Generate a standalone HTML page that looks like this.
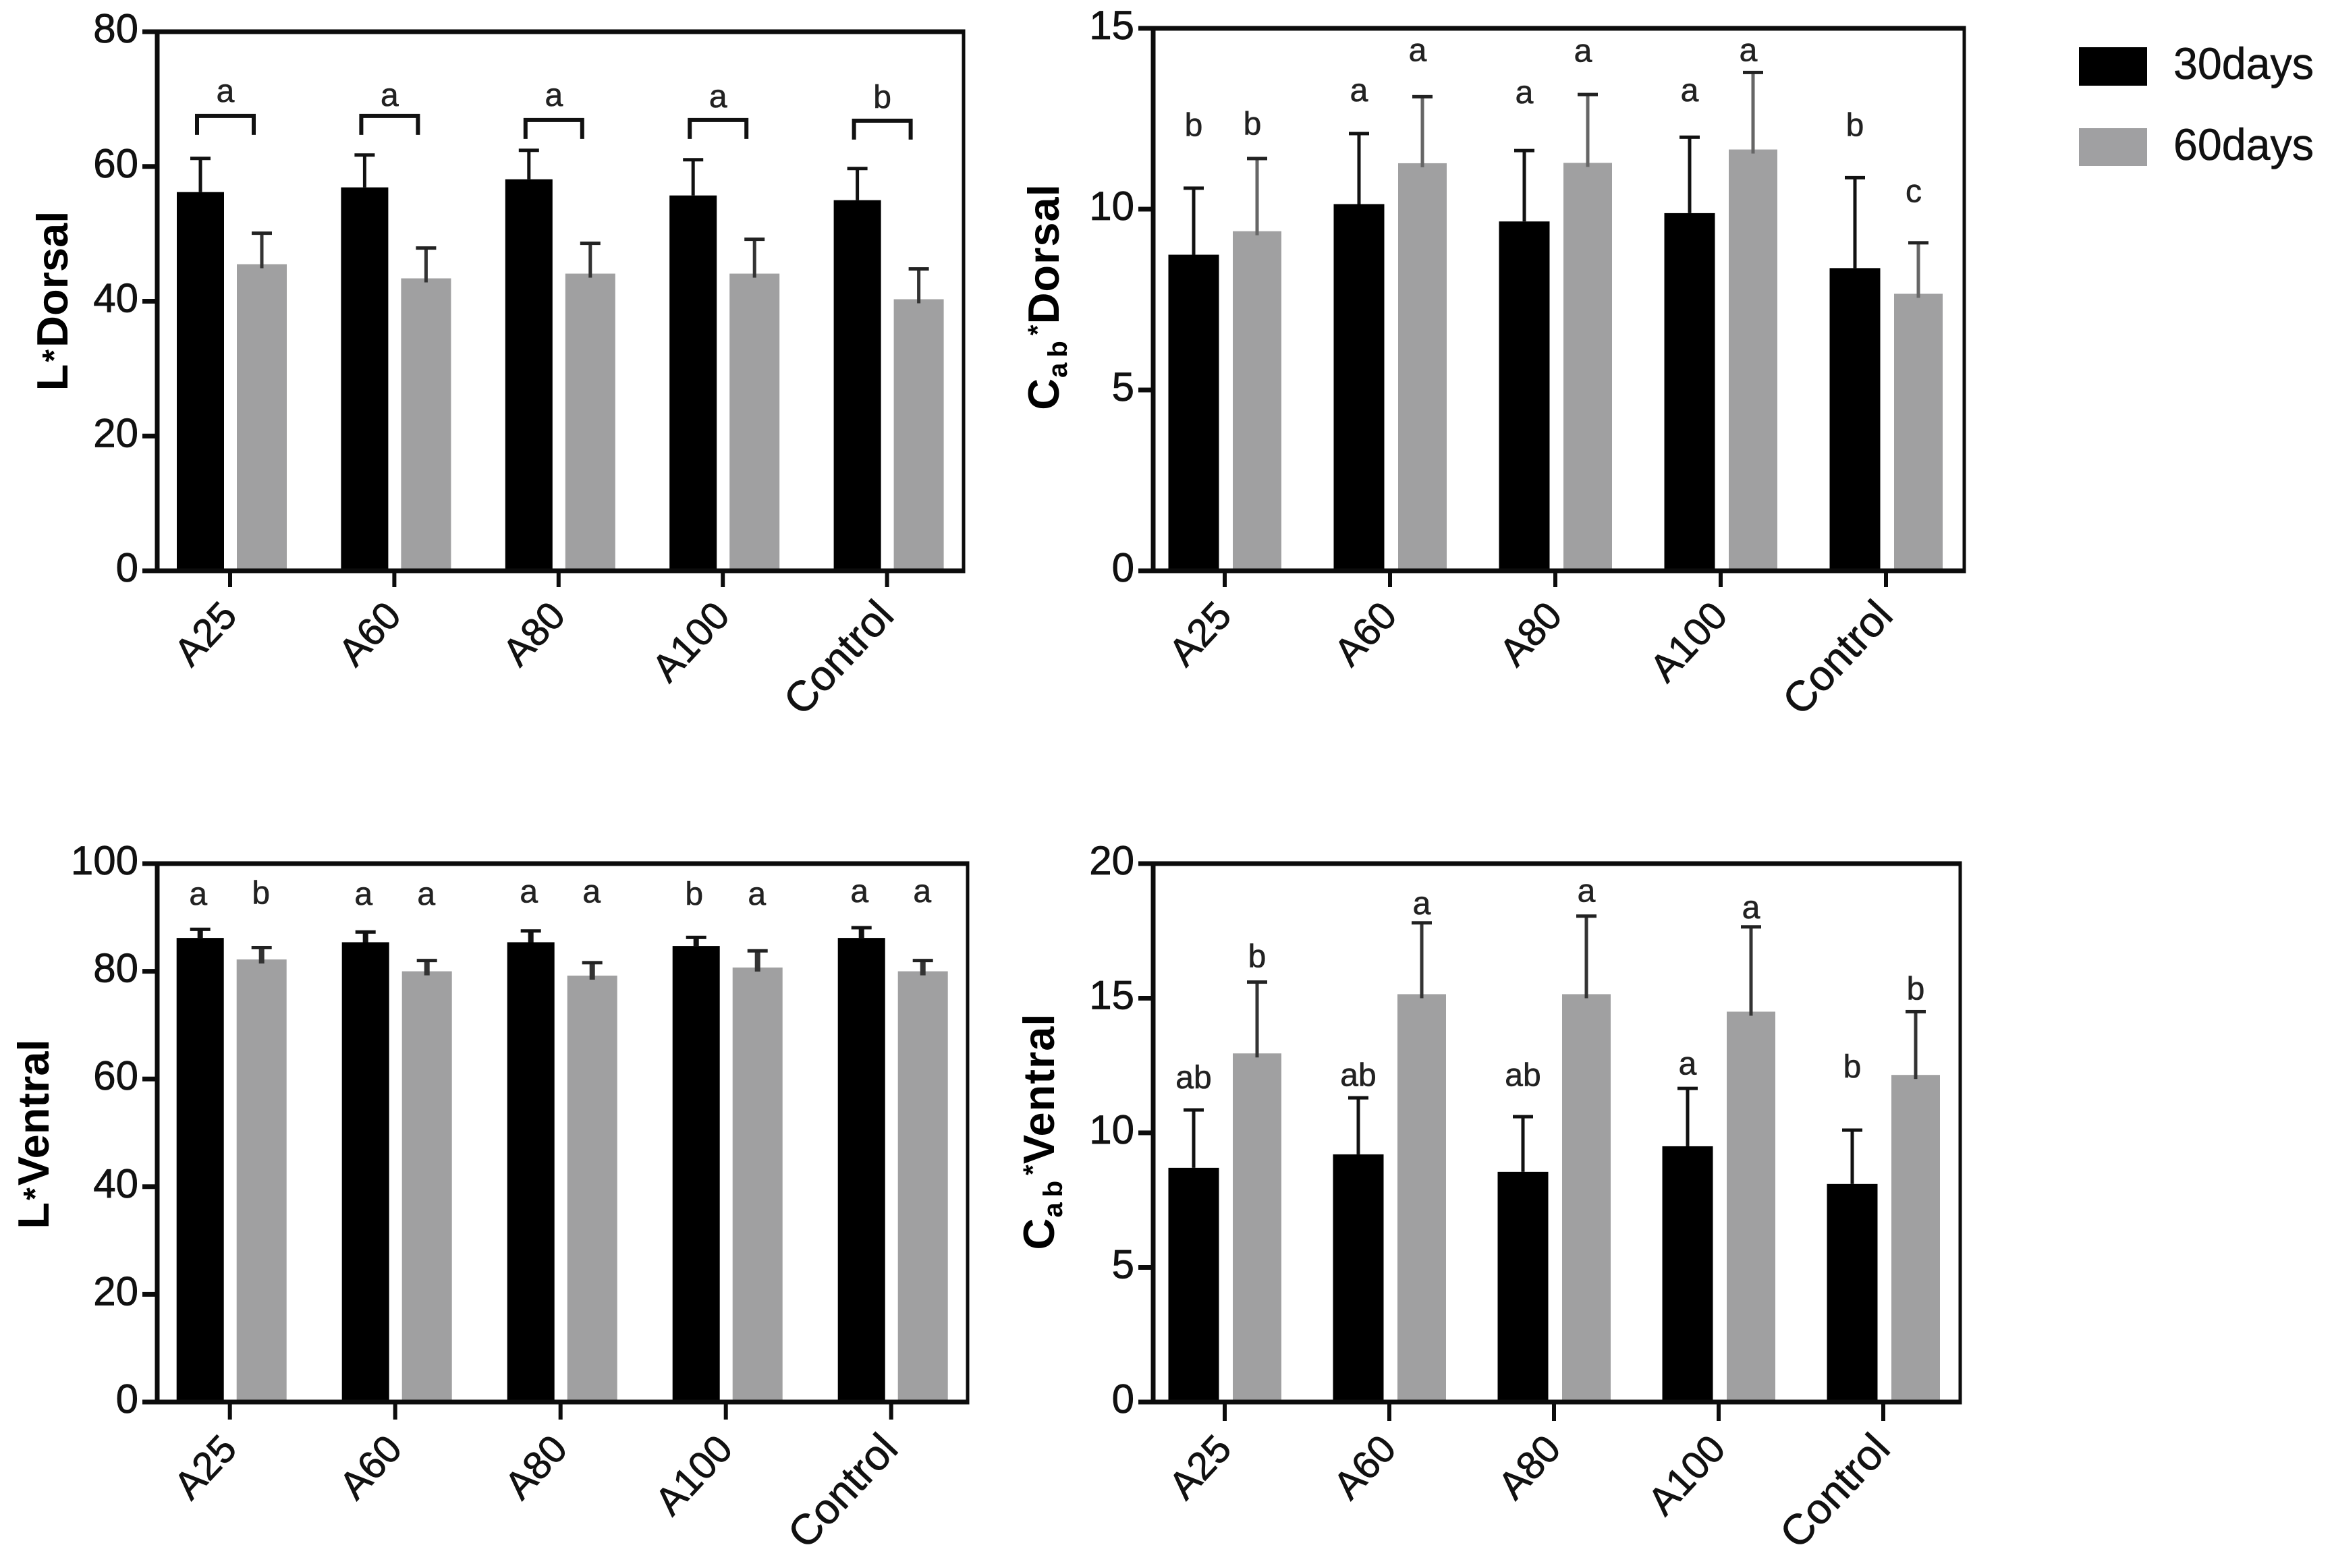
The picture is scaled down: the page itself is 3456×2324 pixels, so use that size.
<!DOCTYPE html>
<html lang="en">
<head>
<meta charset="utf-8">
<title>Colour values at 30 and 60 days</title>
<style>
html,body{margin:0;padding:0;background:#fff}
svg{display:block}
text{font-family:"Liberation Sans",Arial,sans-serif;fill:#111}
.tick{font-size:60px;stroke:#111;stroke-width:.8px}
.cat{font-size:58px;stroke:#111;stroke-width:.8px}
.cat-long{font-size:63px}
.ytitle{font-size:65px;font-weight:bold;fill:#000}
.sig{font-size:48px;fill:#222;stroke:#222;stroke-width:.6px}
.leg{font-size:66px;stroke:#111;stroke-width:.6px}
</style>
</head>
<body>
<svg id="figure" width="3456" height="2324" viewBox="0 0 3456 2324" xmlns="http://www.w3.org/2000/svg">
  <rect x="0" y="0" width="3456" height="2324" fill="#fff"/>

  <text class="ytitle" transform="translate(100,446) rotate(-90)" text-anchor="middle">L<tspan font-size="48" dy="-4" dx="3">*</tspan><tspan dy="4" dx="3">Dorsal</tspan></text>
  <text class="ytitle" transform="translate(1569,440) rotate(-90)" text-anchor="middle" letter-spacing="1">C<tspan font-size="40" dy="12" letter-spacing="8">ab</tspan><tspan font-size="40" dy="-30">*</tspan><tspan dy="18">Dorsal</tspan></text>
  <text class="ytitle" transform="translate(72,1681) rotate(-90)" text-anchor="middle">L<tspan font-size="48" dy="-4" dx="3">*</tspan><tspan dy="4" dx="3">Ventral</tspan></text>
  <text class="ytitle" transform="translate(1562,1677) rotate(-90)" text-anchor="middle" letter-spacing="1">C<tspan font-size="40" dy="12" letter-spacing="8">ab</tspan><tspan font-size="40" dy="-30">*</tspan><tspan dy="18">Ventral</tspan></text>

  <g>
    <rect x="3081" y="70" width="101" height="57" fill="#000"/>
    <text class="leg" x="3221" y="117" textLength="208" lengthAdjust="spacingAndGlyphs">30days</text>
    <rect x="3081" y="190" width="101" height="56" fill="#a0a0a2"/>
    <text class="leg" x="3221" y="237" textLength="208" lengthAdjust="spacingAndGlyphs">60days</text>
  </g>
</svg>

<script>
const categories = ['A25', 'A60', 'A80', 'A100', 'Control'];

const lDorsalTicks = [0, 20, 40, 60, 80];
const lDorsal30 = [56.2, 56.9, 58.1, 55.7, 55.0];
const lDorsal60 = [45.5, 43.4, 44.1, 44.1, 40.3];
const lDorsal30Err = [5.0, 4.8, 4.3, 5.3, 4.7];
const lDorsal60Err = [4.6, 4.5, 4.5, 5.1, 4.5];
const lDorsalLetters = ['a', 'a', 'a', 'a', 'b'];
const lDorsalLetterHeights = [70.9, 70.3, 70.3, 70.1, 70.0];
const lDorsalBracketHeights = [67.5, 67.5, 66.9, 66.9, 66.8];

const cabDorsalTicks = [0, 5, 10, 15];
const cabDorsal30 = [8.74, 10.14, 9.66, 9.89, 8.37];
const cabDorsal60 = [9.39, 11.27, 11.28, 11.65, 7.66];
const cabDorsal30Err = [1.84, 1.95, 1.96, 2.10, 2.50];
const cabDorsal60Err = [2.01, 1.84, 1.89, 2.13, 1.41];
const cabDorsal30Letters = ['b', 'a', 'a', 'a', 'b'];
const cabDorsal60Letters = ['b', 'a', 'a', 'a', 'c'];
const cabDorsal30LetterHeights = [12.27, 13.23, 13.17, 13.23, 12.27];
const cabDorsal60LetterHeights = [12.3, 14.34, 14.32, 14.34, 10.44];

const lVentralTicks = [0, 20, 40, 60, 80, 100];
const lVentral30 = [86.2, 85.4, 85.4, 84.7, 86.2];
const lVentral60 = [82.2, 80.0, 79.2, 80.7, 80.0];
const lVentral30Err = [1.6, 1.9, 2.1, 1.6, 1.9];
const lVentral60Err = [2.2, 2.0, 2.4, 3.1, 2.0];
const lVentral30Letters = ['a', 'a', 'a', 'b', 'a'];
const lVentral60Letters = ['b', 'a', 'a', 'a', 'a'];
const lVentral30LetterHeights = [94.0, 94.0, 94.4, 94.0, 94.5];
const lVentral60LetterHeights = [94.2, 94.0, 94.4, 94.0, 94.5];

const cabVentralTicks = [0, 5, 10, 15, 20];
const cabVentral30 = [8.7, 9.2, 8.55, 9.5, 8.1];
const cabVentral60 = [12.95, 15.15, 15.15, 14.5, 12.15];
const cabVentral30Err = [2.15, 2.1, 2.05, 2.15, 2.0];
const cabVentral60Err = [2.65, 2.65, 2.9, 3.15, 2.35];
const cabVentral30Letters = ['ab', 'ab', 'ab', 'a', 'b'];
const cabVentral60Letters = ['b', 'a', 'a', 'a', 'b'];
const cabVentral30LetterHeights = [11.98, 12.07, 12.07, 12.5, 12.38];
const cabVentral60LetterHeights = [16.48, 18.44, 18.91, 18.3, 15.27];

const SVGNS = 'http://www.w3.org/2000/svg';
const figure = document.getElementById('figure');

function mk(tag, parent) {
  const node = document.createElementNS(SVGNS, tag);
  parent.appendChild(node);
  return node;
}
function setRect(node, x, y, w, h, fill) {
  node.setAttribute('x', x);
  node.setAttribute('y', y);
  node.setAttribute('width', w);
  node.setAttribute('height', h);
  node.setAttribute('fill', fill);
}

function drawPanel(p) {
  const g = mk('g', figure);
  
  

  const yMax = p.ticks[p.ticks.length - 1];
  const yScale = v => p.bottom - (v / yMax) * (p.bottom - p.top);
  const xBand = i => p.x0 + i * p.step;
  const AXIS = '#0c0c0c';

  categories.forEach((cat, i) => {
    const cx = xBand(i);
    const v30 = p.v30[i];
    const v60 = p.v60[i];
    const left30 = cx + p.off30 - p.w30 / 2;
    const left60 = cx + p.off60 - p.w60 / 2;

    const bar30 = mk('rect', g);
    
    
    setRect(bar30, left30, yScale(v30), p.w30, p.bottom - yScale(v30), '#000');

    const bar60 = mk('rect', g);
    
    
    setRect(bar60, left60, yScale(v60), p.w60, p.bottom - yScale(v60), '#a0a0a1');

    const stem30 = mk('rect', g);
    
    
    setRect(stem30, cx + p.off30 - p.stemW / 2, yScale(v30 + p.e30[i]), p.stemW, yScale(v30) - yScale(v30 + p.e30[i]), '#111');

    const cap30 = mk('rect', g);
    
    
    setRect(cap30, cx + p.off30 - 15, yScale(v30 + p.e30[i]) - 2.5, 30, 5, '#111');

    const stem60 = mk('rect', g);
    
    
    setRect(stem60, cx + p.off60 - p.stemW / 2, yScale(v60 + p.e60[i]), p.stemW, yScale(v60) - yScale(v60 + p.e60[i]) + 6, p.stem60);

    const cap60 = mk('rect', g);
    
    
    setRect(cap60, cx + p.off60 - 15, yScale(v60 + p.e60[i]) - 2.5, 30, 5, '#222');

    const xTick = mk('rect', g);
    
    
    setRect(xTick, cx - 3, p.bottom, 6, p.tickLen, AXIS);

    const label = mk('text', g);
    
    
    label.setAttribute('class', cat.length > 4 ? 'cat cat-long' : 'cat');
    label.setAttribute('text-anchor', 'end');
    label.setAttribute('transform', 'translate(' + (cx + 13) + ',' + (p.bottom + p.labelDy) + ') rotate(-47)');
    label.textContent = cat;

    if (p.groupLetters) {
      const lx = cx - 7;
      const letter = mk('text', g);
      
      
      letter.setAttribute('class', 'sig');
      letter.setAttribute('text-anchor', 'middle');
      letter.setAttribute('x', lx);
      letter.setAttribute('y', yScale(p.groupHeights[i]) + 13);
      letter.textContent = p.groupLetters[i];

      const by = yScale(p.bracketHeights[i]);
      const bracket = mk('path', g);
      
      
      bracket.setAttribute('fill', 'none');
      bracket.setAttribute('stroke', '#111');
      bracket.setAttribute('stroke-width', '6');
      bracket.setAttribute('d', 'M' + (lx - 42) + ' ' + (by + 28) + 'V' + by + 'H' + (lx + 42) + 'V' + (by + 28));
    } else {
      const letter30 = mk('text', g);
      
      
      letter30.setAttribute('class', 'sig');
      letter30.setAttribute('text-anchor', 'middle');
      letter30.setAttribute('x', cx + p.off30 + p.letterOff30);
      letter30.setAttribute('y', yScale(p.h30[i]) + 13);
      letter30.textContent = p.l30[i];

      const letter60 = mk('text', g);
      
      
      letter60.setAttribute('class', 'sig');
      letter60.setAttribute('text-anchor', 'middle');
      letter60.setAttribute('x', cx + p.off60 + p.letterOff60);
      letter60.setAttribute('y', yScale(p.h60[i]) + 13);
      letter60.textContent = p.l60[i];
    }
  });

  const axisLeft = mk('rect', g);
  
  
  setRect(axisLeft, p.left - 3.5, p.top, 7, p.bottom - p.top, AXIS);

  const axisBottom = mk('rect', g);
  
  
  setRect(axisBottom, p.left - 3.5, p.bottom - 3.5, p.right - p.left + 6, 7, AXIS);

  const frameTop = mk('rect', g);
  
  
  setRect(frameTop, p.left - 3.5, p.top - 3.5, p.right - p.left + 6, 7, AXIS);

  const frameRight = mk('rect', g);
  
  
  setRect(frameRight, p.right - 2.5, p.top, 5, p.bottom - p.top, AXIS);

  p.ticks.forEach(t => {
    const y = yScale(t);
    const yTick = mk('rect', g);
    
    
    setRect(yTick, p.left - 22, y - 3.5, 20, 7, AXIS);

    const yLabel = mk('text', g);
    
    
    yLabel.setAttribute('class', 'tick');
    yLabel.setAttribute('text-anchor', 'end');
    yLabel.setAttribute('x', p.left - 28);
    yLabel.setAttribute('y', y + 16);
    yLabel.textContent = t;
  });
}

drawPanel({
  name: 'panel-l-dorsal', ticks: lDorsalTicks,
  v30: lDorsal30, v60: lDorsal60, e30: lDorsal30Err, e60: lDorsal60Err,
  groupLetters: lDorsalLetters, groupHeights: lDorsalLetterHeights, bracketHeights: lDorsalBracketHeights,
  left: 233, right: 1428, top: 47, bottom: 846,
  x0: 341, step: 243.4, off30: -44, off60: 47, w30: 70, w60: 74,
  tickLen: 24, labelDy: 69, stem60: '#333', stemW: 5
});
drawPanel({
  name: 'panel-cab-dorsal', ticks: cabDorsalTicks,
  v30: cabDorsal30, v60: cabDorsal60, e30: cabDorsal30Err, e60: cabDorsal60Err,
  l30: cabDorsal30Letters, l60: cabDorsal60Letters, h30: cabDorsal30LetterHeights, h60: cabDorsal60LetterHeights,
  letterOff30: 0, letterOff60: -7,
  left: 1709, right: 2911, top: 42, bottom: 846,
  x0: 1815, step: 245, off30: -46, off60: 48, w30: 75, w60: 72,
  tickLen: 24, labelDy: 69, stem60: '#666', stemW: 5
});
drawPanel({
  name: 'panel-l-ventral', ticks: lVentralTicks,
  v30: lVentral30, v60: lVentral60, e30: lVentral30Err, e60: lVentral60Err,
  l30: lVentral30Letters, l60: lVentral60Letters, h30: lVentral30LetterHeights, h60: lVentral60LetterHeights,
  letterOff30: -3, letterOff60: -1,
  left: 233, right: 1434, top: 1280, bottom: 2078,
  x0: 340.7, step: 245, off30: -44, off60: 47, w30: 70, w60: 74,
  tickLen: 26, labelDy: 72, stem60: '#333', stemW: 8
});
drawPanel({
  name: 'panel-cab-ventral', ticks: cabVentralTicks,
  v30: cabVentral30, v60: cabVentral60, e30: cabVentral30Err, e60: cabVentral60Err,
  l30: cabVentral30Letters, l60: cabVentral60Letters, h30: cabVentral30LetterHeights, h60: cabVentral60LetterHeights,
  letterOff30: 0, letterOff60: 0,
  left: 1709, right: 2905, top: 1280, bottom: 2078,
  x0: 1815, step: 244, off30: -46, off60: 48, w30: 75, w60: 72,
  tickLen: 28, labelDy: 72, stem60: '#333', stemW: 5
});
</script>
</body>
</html>
